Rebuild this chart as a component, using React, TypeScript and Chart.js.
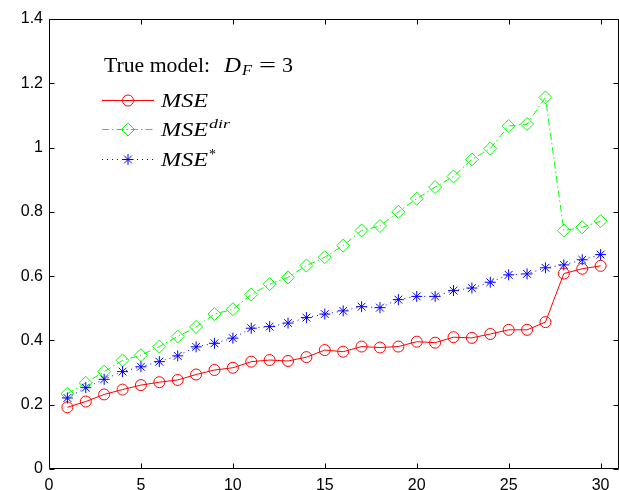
import React, { useEffect, useRef } from "react";
import { Chart, registerables } from "chart.js";

Chart.register(...registerables);

// ---- data ----
const X_VALUES = [1, 2, 3, 4, 5, 6, 7, 8, 9, 10, 11, 12, 13, 14, 15, 16, 17, 18, 19, 20, 21, 22, 23, 24, 25, 26, 27, 28, 29, 30];
const MSE = [0.192, 0.21, 0.232, 0.247, 0.261, 0.27, 0.277, 0.294, 0.308, 0.315, 0.334, 0.339, 0.336, 0.348, 0.37, 0.365, 0.381, 0.378, 0.381, 0.396, 0.393, 0.41, 0.408, 0.42, 0.433, 0.433, 0.457, 0.608, 0.623, 0.632];
const MSE_DIR = [0.234, 0.268, 0.303, 0.338, 0.354, 0.381, 0.412, 0.442, 0.482, 0.497, 0.543, 0.575, 0.596, 0.633, 0.659, 0.695, 0.742, 0.756, 0.8, 0.841, 0.877, 0.91, 0.963, 0.997, 1.067, 1.073, 1.156, 0.742, 0.752, 0.771];
const MSE_STAR = [0.221, 0.253, 0.279, 0.303, 0.318, 0.334, 0.352, 0.38, 0.391, 0.407, 0.438, 0.443, 0.454, 0.471, 0.482, 0.492, 0.505, 0.502, 0.527, 0.537, 0.537, 0.555, 0.563, 0.581, 0.604, 0.607, 0.626, 0.635, 0.651, 0.667];
const X_TICKS = [0, 5, 10, 15, 20, 25, 30];
const Y_TICKS = [0, 0.2, 0.4, 0.6, 0.8, 1, 1.2, 1.4];
const X_MIN = 0;
const X_MAX = 31;
const Y_MIN = 0;
const Y_MAX = 1.4;

const RED = "#ff0000";
const GREEN = "#00ff00";
const BLUE = "#0000ff";

const toPoints = (ys: number[]) => X_VALUES.map((x, i) => ({ x, y: ys[i] }));

function drawMarker(ctx: CanvasRenderingContext2D, style: string, x: number, y: number, r: number, color: string) {
  ctx.save();
  ctx.strokeStyle = color;
  ctx.lineWidth = 1;
  ctx.setLineDash([]);
  ctx.beginPath();
  if (style === "circle") {
    ctx.arc(x, y, r, 0, Math.PI * 2);
  } else if (style === "rectRot") {
    ctx.moveTo(x, y - r);
    ctx.lineTo(x + r, y);
    ctx.lineTo(x, y + r);
    ctx.lineTo(x - r, y);
    ctx.closePath();
  } else if (style === "star") {
    for (let k = 0; k < 4; k++) {
      const a = (k * Math.PI) / 4;
      ctx.moveTo(x - Math.cos(a) * r, y - Math.sin(a) * r);
      ctx.lineTo(x + Math.cos(a) * r, y + Math.sin(a) * r);
    }
  }
  ctx.stroke();
  ctx.restore();
}

// draw a text fitted to a given width (horizontal scale only)
function fitText(ctx: CanvasRenderingContext2D, text: string, x: number, y: number, width: number) {
  const w = ctx.measureText(text).width;
  ctx.save();
  ctx.translate(x, y);
  ctx.scale(width / w, 1);
  ctx.fillText(text, 0, 0);
  ctx.restore();
}

const frameAndTicks = {
  id: "frameAndTicks",
  afterDatasetsDraw(chart: any) {
    const { ctx, chartArea, scales } = chart;
    const { left, right, top, bottom } = chartArea;
    ctx.save();
    ctx.strokeStyle = "#000";
    ctx.lineWidth = 1;
    ctx.setLineDash([]);
    const L = Math.round(left) + 0.5;
    const R = Math.round(right) - 0.5;
    const T = Math.round(top) + 0.5;
    const B = Math.round(bottom) - 0.5;
    ctx.beginPath();
    ctx.rect(L, T, R - L, B - T);
    ctx.stroke();
    const len = 5;
    ctx.beginPath();
    X_TICKS.forEach((v) => {
      const px = Math.round(scales.x.getPixelForValue(v)) + 0.5;
      ctx.moveTo(px, B);
      ctx.lineTo(px, B - len);
      ctx.moveTo(px, T);
      ctx.lineTo(px, T + len);
    });
    Y_TICKS.forEach((v) => {
      const py = Math.round(scales.y.getPixelForValue(v)) + 0.5;
      ctx.moveTo(L, py);
      ctx.lineTo(L + len, py);
      ctx.moveTo(R, py);
      ctx.lineTo(R - len, py);
    });
    ctx.stroke();
    ctx.restore();
  },
};

const legendPlugin = {
  id: "matlabLegend",
  afterDraw(chart: any) {
    const ctx: CanvasRenderingContext2D = chart.ctx;
    ctx.save();
    ctx.fillStyle = "#000";
    ctx.textBaseline = "alphabetic";
    ctx.textAlign = "left";
    // title
    const ty = 72;
    ctx.font = '21px "Liberation Serif"';
    fitText(ctx, "True model:", 104, ty, 106);
    ctx.font = 'italic 21px "Liberation Serif"';
    fitText(ctx, "D", 224, ty, 17);
    ctx.font = 'italic 14px "Liberation Serif"';
    fitText(ctx, "F", 242, ty + 3, 10);
    ctx.font = '21px "Liberation Serif"';
    fitText(ctx, "=", 259, ty, 17);
    fitText(ctx, "3", 282, ty, 11);

    const entries = [
      { ds: chart.data.datasets[0], y: 100, sup: "", supDy: 0, supW: 0 },
      { ds: chart.data.datasets[1], y: 129, sup: "dir", supDy: -8, supW: 21 },
      { ds: chart.data.datasets[2], y: 159, sup: "*", supDy: -7, supW: 7 },
    ];
    entries.forEach((e) => {
      const ds = e.ds;
      ctx.save();
      ctx.strokeStyle = ds.borderColor;
      ctx.lineWidth = 1;
      ctx.setLineDash(ds.borderDash || []);
      ctx.beginPath();
      ctx.moveTo(102, e.y + 0.5);
      ctx.lineTo(154, e.y + 0.5);
      ctx.stroke();
      ctx.restore();
      drawMarker(ctx, ds.pointStyle, 128, e.y + 0.5, ds.pointRadius, ds.borderColor);
      // label
      const base = e.y + 7;
      ctx.font = 'italic 18px "Liberation Serif"';
      fitText(ctx, "MSE", 161, base, 47);
      if (e.sup) {
        ctx.font = e.sup === "*" ? '15px "Liberation Serif"' : 'italic 13px "Liberation Serif"';
        fitText(ctx, e.sup, 209, base + e.supDy, e.supW);
      }
    });
    ctx.restore();
  },
};

const tickFont = { family: '"Liberation Sans", Arial, sans-serif', size: 16 };

export default function App() {
  const ref = useRef<HTMLCanvasElement | null>(null);
  useEffect(() => {
    document.body.style.margin = "0";
    const canvas = ref.current;
    if (!canvas) return;
    const chart = new Chart(canvas, {
      type: "line",
      data: {
        datasets: [
          {
            label: "MSE",
            data: toPoints(MSE),
            borderColor: RED,
            borderWidth: 1,
            pointStyle: "circle",
            pointRadius: 5.5,
            pointBorderColor: RED,
            pointBackgroundColor: "rgba(0,0,0,0)",
            pointBorderWidth: 1,
            order: 2,
          },
          {
            label: "MSEdir",
            data: toPoints(MSE_DIR),
            borderColor: GREEN,
            borderWidth: 1,
            borderDash: [7, 3, 1.5, 3],
            pointStyle: "rectRot",
            pointRadius: 6.5,
            pointBorderColor: GREEN,
            pointBackgroundColor: "rgba(0,0,0,0)",
            pointBorderWidth: 1,
            order: 1,
          },
          {
            label: "MSE*",
            data: toPoints(MSE_STAR),
            borderColor: BLUE,
            borderWidth: 1,
            borderDash: [1, 4],
            pointStyle: "star",
            pointRadius: 5.5,
            pointBorderColor: BLUE,
            pointBackgroundColor: BLUE,
            pointBorderWidth: 1,
            order: 0,
          },
        ] as any,
      },
      options: {
        responsive: false,
        animation: false,
        devicePixelRatio: 1,
        layout: { autoPadding: false, padding: { top: 19, right: 0, left: 0, bottom: 0 } },
        plugins: { legend: { display: false }, tooltip: { enabled: false } },
        elements: { line: { tension: 0 } },
        scales: {
          x: {
            type: "linear",
            min: X_MIN,
            max: X_MAX,
            grid: { display: false, drawTicks: false },
            border: { display: false },
            ticks: {
              padding: 7,
              color: "#000",
              font: tickFont,
              maxRotation: 0,
              callback: (v: any) => String(v),
            },
            afterBuildTicks: (scale: any) => {
              scale.ticks = X_TICKS.map((v) => ({ value: v }));
            },
            afterFit: (scale: any) => {
              scale.height = 21;
              scale.paddingLeft = 0;
              scale.paddingRight = 0;
            },
          },
          y: {
            type: "linear",
            min: Y_MIN,
            max: Y_MAX,
            grid: { display: false, drawTicks: false },
            border: { display: false },
            ticks: {
              padding: 6,
              color: "#000",
              font: tickFont,
              callback: (v: any) => String(Math.round(v * 10) / 10),
            },
            afterBuildTicks: (scale: any) => {
              scale.ticks = Y_TICKS.map((v) => ({ value: v }));
            },
            afterFit: (scale: any) => {
              scale.width = 49;
              scale.paddingTop = 0;
              scale.paddingBottom = 0;
            },
          },
        },
      } as any,
      plugins: [frameAndTicks, legendPlugin],
    });
    return () => chart.destroy();
  }, []);
  return (
    <div style={{ position: "absolute", left: 0, top: 0, width: 619, height: 490, background: "#fff" }}>
      <canvas ref={ref} width={619} height={490} style={{ display: "block" }} />
    </div>
  );
}
